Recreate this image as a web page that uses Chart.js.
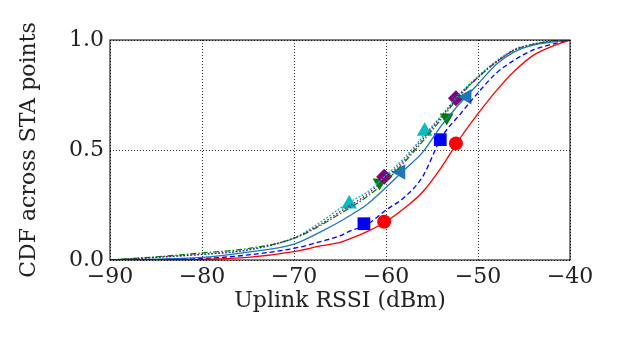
<!DOCTYPE html>
<html>
<head>
<meta charset="utf-8">
<script src="https://cdn.jsdelivr.net/npm/chart.js@4.4.0/dist/chart.umd.min.js"></script>
<style>
  html, body { margin: 0; padding: 0; background: #fff; }
  #wrap { width: 623px; height: 350px; }
</style>
</head>
<body>
<div id="wrap"><canvas id="cdfChart"></canvas></div>
<script>
// RSSI grid (dBm) shared by all curves
const rssi = [-90, -85, -80, -75, -70, -67, -65, -64, -62, -60, -58, -56, -54, -52, -50, -48, -46, -44, -42, -40];

// CDF values
const cdfRed    = [0, 0.001, 0.003, 0.012, 0.038, 0.065, 0.08, 0.095, 0.13, 0.175, 0.235, 0.31, 0.42, 0.55, 0.665, 0.77, 0.86, 0.93, 0.97, 1.0];
const cdfBlue   = [0, 0.002, 0.006, 0.023, 0.053, 0.085, 0.11, 0.13, 0.163, 0.227, 0.285, 0.38, 0.555, 0.66, 0.76, 0.85, 0.91, 0.955, 0.98, 1.0];
const cdfSteel  = [0, 0.004, 0.012, 0.036, 0.072, 0.13, 0.175, 0.20, 0.255, 0.33, 0.41, 0.49, 0.61, 0.71, 0.80, 0.89, 0.947, 0.977, 0.99, 1.0];
const cdfPurple = [0, 0.012, 0.026, 0.046, 0.100, 0.165, 0.22, 0.245, 0.30, 0.375, 0.455, 0.55, 0.65, 0.75, 0.83, 0.90, 0.955, 0.98, 0.995, 1.0];
const cdfGreen  = [0, 0.014, 0.032, 0.052, 0.098, 0.16, 0.21, 0.235, 0.29, 0.36, 0.445, 0.54, 0.64, 0.745, 0.83, 0.90, 0.955, 0.98, 0.995, 1.0];
const cdfCyan   = [0, 0.012, 0.025, 0.045, 0.100, 0.175, 0.235, 0.262, 0.31, 0.385, 0.465, 0.56, 0.655, 0.755, 0.835, 0.905, 0.958, 0.982, 0.995, 1.0];

// marker positions (two per curve)
const mkRed    = [[-60.2, 0.174], [-52.4, 0.53]];
const mkBlue   = [[-62.4, 0.165], [-54.1, 0.547]];
const mkSteel  = [[-58.4, 0.40], [-51.2, 0.742]];
const mkPurple = [[-60.2, 0.378], [-52.4, 0.735]];
const mkGreen  = [[-60.7, 0.352], [-53.4, 0.648]];
const mkCyan   = [[-64.0, 0.255], [-55.8, 0.585]];

const xTicks = [-90, -80, -70, -60, -50, -40];
const yTicks = [0, 0.5, 1.0];

const fontFam = '"DejaVu Serif", serif';

function linha(cdf, cor, dash) {
  return {
    type: 'line',
    data: rssi.map((x, i) => ({ x: x, y: cdf[i] })),
    borderColor: cor,
    borderWidth: 1.3,
    borderDash: dash,
    pointRadius: 0,
    cubicInterpolationMode: 'monotone',
    fill: false
  };
}

function marcadores(pts, cor, estilo, raio, rot) {
  return {
    type: 'scatter',
    data: pts.map(p => ({ x: p[0], y: p[1] })),
    backgroundColor: cor,
    borderColor: cor,
    borderWidth: 0,
    pointStyle: estilo,
    pointRadius: raio,
    pointRotation: rot || 0,
    showLine: false
  };
}

// box around the plot area (matplotlib style)
const moldura = {
  id: 'moldura',
  afterDraw(chart) {
    const a = chart.chartArea, ctx = chart.ctx;
    ctx.save();
    ctx.strokeStyle = '#000';
    ctx.lineWidth = 1;
    ctx.strokeRect(a.left, a.top, a.right - a.left, a.bottom - a.top);
    ctx.restore();
  }
};

new Chart(document.getElementById('cdfChart'), {
  data: {
    datasets: [
      linha(cdfRed, '#ff0000', []),
      linha(cdfBlue, '#0000ff', [5, 3]),
      linha(cdfSteel, '#1f77b4', []),
      linha(cdfPurple, '#800080', [1.5, 2]),
      linha(cdfGreen, '#008000', [6, 2, 1.5, 2]),
      linha(cdfCyan, '#00bfbf', [2, 1.5]),
      marcadores(mkRed, '#ff0000', 'circle', 7),
      marcadores(mkBlue, '#0000ff', 'rect', 9),
      marcadores(mkSteel, '#1f77b4', 'triangle', 9, -90),
      marcadores(mkPurple, '#800080', 'rectRot', 8),
      marcadores(mkGreen, '#008000', 'triangle', 8, 180),
      marcadores(mkCyan, '#00bfbf', 'triangle', 9)
    ]
  },
  options: {
    responsive: true,
    maintainAspectRatio: false,
    animation: false,
    layout: { padding: { top: 40, right: 53, left: 16, bottom: 36 } },
    plugins: { legend: { display: false }, tooltip: { enabled: false } },
    scales: {
      x: {
        type: 'linear',
        min: -90, max: -40,
        afterFit: s => { s.height = 54; },
        afterBuildTicks: s => { s.ticks = xTicks.map(v => ({ value: v })); },
        grid: { color: '#000', lineWidth: 0.8, drawTicks: false },
        border: { display: false, dash: [1, 2] },
        ticks: {
          color: '#222', padding: 4,
          font: { family: fontFam, size: 22 },
          callback: v => String(v).replace('-', '\u2212')
        },
        title: { display: true, text: 'Uplink RSSI (dBm)', color: '#222', font: { family: fontFam, size: 22 }, padding: 0 }
      },
      y: {
        min: 0, max: 1,
        afterFit: s => { s.width = 94; },
        afterBuildTicks: s => { s.ticks = yTicks.map(v => ({ value: v })); },
        grid: { color: '#000', lineWidth: 0.8, drawTicks: false },
        border: { display: false, dash: [1, 2] },
        ticks: {
          color: '#222', padding: 6,
          font: { family: fontFam, size: 22 },
          callback: v => v.toFixed(1)
        },
        title: { display: true, text: 'CDF across STA points', color: '#222', font: { family: fontFam, size: 22 }, padding: 0 }
      }
    }
  },
  plugins: [moldura]
});
</script>
</body>
</html>
